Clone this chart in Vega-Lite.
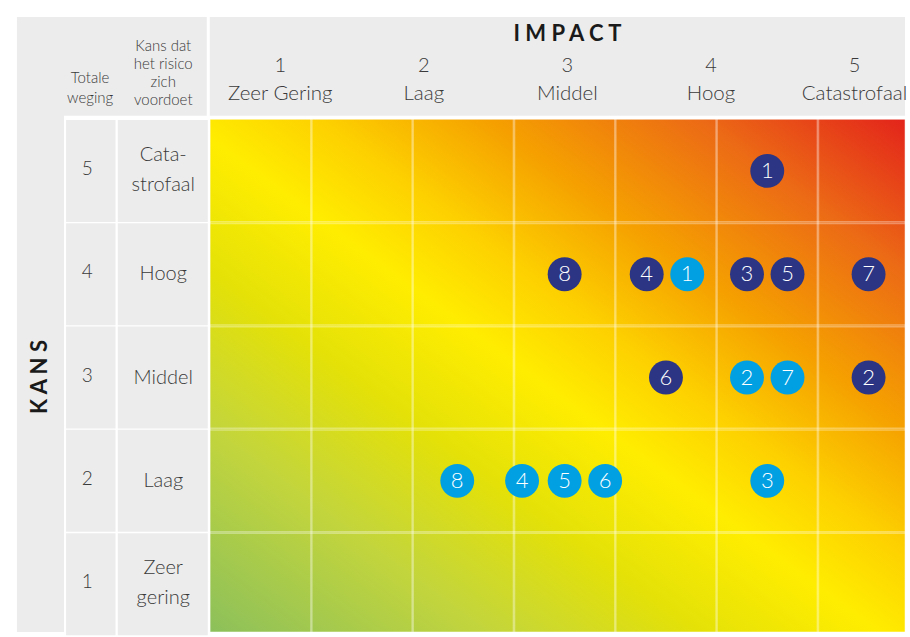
{
  "$schema": "https://vega.github.io/schema/vega-lite/v6.json",
  "width": 900,
  "height": 627,
  "autosize": "none",
  "padding": 5,
  "background": "white",
  "config": {"view": {"stroke": null}, "font": "Lato"},
  "datasets": {
    "risico": [
      {"impact": 6.0, "kans": 5, "nr": "1", "soort": "donker"},
      {"impact": 4.0, "kans": 4, "nr": "8", "soort": "donker"},
      {"impact": 4.81, "kans": 4, "nr": "4", "soort": "donker"},
      {"impact": 5.21, "kans": 4, "nr": "1", "soort": "licht"},
      {"impact": 5.8, "kans": 4, "nr": "3", "soort": "donker"},
      {"impact": 6.2, "kans": 4, "nr": "5", "soort": "donker"},
      {"impact": 7.0, "kans": 4, "nr": "7", "soort": "donker"},
      {"impact": 5.0, "kans": 3, "nr": "6", "soort": "donker"},
      {"impact": 5.8, "kans": 3, "nr": "2", "soort": "licht"},
      {"impact": 6.2, "kans": 3, "nr": "7", "soort": "licht"},
      {"impact": 7.0, "kans": 3, "nr": "2", "soort": "donker"},
      {"impact": 2.94, "kans": 2, "nr": "8", "soort": "licht"},
      {"impact": 3.58, "kans": 2, "nr": "4", "soort": "licht"},
      {"impact": 4.0, "kans": 2, "nr": "5", "soort": "licht"},
      {"impact": 4.4, "kans": 2, "nr": "6", "soort": "licht"},
      {"impact": 6.0, "kans": 2, "nr": "3", "soort": "licht"}
    ],
    "impact": [
      {"impact": 1, "label": "Zeer Gering"},
      {"impact": 2, "label": "Laag"},
      {"impact": 3, "label": "Middel"},
      {"impact": 4, "label": "Hoog"},
      {"impact": 5, "label": "Catastrofaal"}
    ],
    "kans": [
      {"kans": 5, "label": "Cata-\nstrofaal", "regels": 2},
      {"kans": 4, "label": "Hoog", "regels": 1},
      {"kans": 3, "label": "Middel", "regels": 1},
      {"kans": 2, "label": "Laag", "regels": 1},
      {"kans": 1, "label": "Zeer\ngering", "regels": 2}
    ],
    "kolommen": [
      {"kolom": 1}, {"kolom": 2}, {"kolom": 3}, {"kolom": 4}, {"kolom": 5}, {"kolom": 6}, {"kolom": 7}
    ]
  },
  "resolve": {"scale": {"x": "independent"}},
  "layer": [
    {
      "layer": [
        {
          "data": {"values": [{}]},
          "mark": {"type": "rect", "fill": "#ececec"},
          "encoding": {
            "x": {"datum": -1.406, "type": "quantitative", "scale": {"domain": [-1.4746, 7.3102], "nice": false, "zero": false}, "axis": null},
            "x2": {"datum": 7.36},
            "y": {"datum": 0.538, "type": "quantitative", "scale": {"domain": [0.5854, 6.5574], "nice": false, "zero": false}, "axis": null},
            "y2": {"datum": 6.49}
          }
        },
        {
          "data": {"values": [{}]},
          "mark": {"type": "rect", "fill": "#ffffff"},
          "encoding": {
            "x": {"datum": -0.942, "type": "quantitative", "scale": {"domain": [-1.4746, 7.3102], "nice": false, "zero": false}, "axis": null},
            "x2": {"datum": 7.36},
            "y": {"datum": 0.538, "type": "quantitative", "scale": {"domain": [0.5854, 6.5574], "nice": false, "zero": false}, "axis": null},
            "y2": {"datum": 5.535}
          }
        },
        {
          "data": {"values": [{}]},
          "mark": {"type": "rule", "stroke": "#ffffff", "strokeWidth": 3},
          "encoding": {
            "x": {"datum": 0.4824, "type": "quantitative", "scale": {"domain": [-1.4746, 7.3102], "nice": false, "zero": false}, "axis": null},
            "y": {"datum": 5.5, "type": "quantitative", "scale": {"domain": [0.5854, 6.5574], "nice": false, "zero": false}, "axis": null},
            "y2": {"datum": 6.49}
          }
        },
        {
          "data": {"name": "kans"},
          "mark": {"type": "bar", "orient": "horizontal", "fill": "#ececec", "height": 102},
          "encoding": {
            "x": {"datum": -0.921, "type": "quantitative", "scale": {"domain": [-1.4746, 7.3102], "nice": false, "zero": false}, "axis": null},
            "x2": {"datum": -0.433},
            "y": {"field": "kans", "type": "quantitative", "scale": {"domain": [0.5854, 6.5574], "nice": false, "zero": false}, "axis": null}
          }
        },
        {
          "data": {"name": "kans"},
          "mark": {"type": "bar", "orient": "horizontal", "fill": "#ececec", "height": 102},
          "encoding": {
            "x": {"datum": -0.411, "type": "quantitative", "scale": {"domain": [-1.4746, 7.3102], "nice": false, "zero": false}, "axis": null},
            "x2": {"datum": 0.4775},
            "y": {"field": "kans", "type": "quantitative", "scale": {"domain": [0.5854, 6.5574], "nice": false, "zero": false}, "axis": null}
          }
        },
        {
          "data": {"values": [{}]},
          "mark": {
            "type": "rect",
            "fill": {
              "gradient": "linear",
              "x1": 0, "y1": 1, "x2": 1, "y2": 0,
              "stops": [
                {"offset": 0, "color": "#8cc05b"},
                {"offset": 0.2, "color": "#c3d53c"},
                {"offset": 0.35, "color": "#e4e108"},
                {"offset": 0.48, "color": "#ffed00"},
                {"offset": 0.58, "color": "#fdd000"},
                {"offset": 0.7, "color": "#f5a000"},
                {"offset": 0.85, "color": "#ec6b15"},
                {"offset": 1, "color": "#e3241b"}
              ]
            }
          },
          "encoding": {
            "x": {"datum": 0.5, "type": "quantitative", "scale": {"domain": [-1.4746, 7.3102], "nice": false, "zero": false}, "axis": null},
            "x2": {"datum": 7.36},
            "y": {"datum": 0.538, "type": "quantitative", "scale": {"domain": [0.5854, 6.5574], "nice": false, "zero": false}, "axis": null},
            "y2": {"datum": 5.5}
          }
        },
        {
          "data": {"name": "kolommen"},
          "mark": {"type": "bar", "orient": "vertical", "width": 102.45, "fill": "#ffffff", "fillOpacity": 0, "stroke": "#ffffff", "strokeOpacity": 0.33, "strokeWidth": 1.5},
          "encoding": {
            "x": {"field": "kolom", "type": "quantitative", "scale": {"domain": [-1.4746, 7.3102], "nice": false, "zero": false}, "axis": null},
            "y": {"datum": 0.538, "type": "quantitative", "scale": {"domain": [0.5854, 6.5574], "nice": false, "zero": false}, "axis": null},
            "y2": {"datum": 5.5}
          }
        },
        {
          "data": {"name": "kans"},
          "mark": {"type": "bar", "orient": "horizontal", "height": 104.99, "fill": "#ffffff", "fillOpacity": 0, "stroke": "#ffffff", "strokeOpacity": 0.33, "strokeWidth": 1.5},
          "encoding": {
            "x": {"datum": 0.5, "type": "quantitative", "scale": {"domain": [-1.4746, 7.3102], "nice": false, "zero": false}, "axis": null},
            "x2": {"datum": 7.36},
            "y": {"field": "kans", "type": "quantitative", "scale": {"domain": [0.5854, 6.5574], "nice": false, "zero": false}, "axis": null}
          }
        },
        {
          "data": {"name": "kans"},
          "mark": {"type": "text", "fontSize": 19, "fontWeight": 300, "color": "#3a3a3a", "baseline": "middle", "align": "center", "dy": -2},
          "encoding": {
            "x": {"datum": -0.713, "type": "quantitative", "scale": {"domain": [-1.4746, 7.3102], "nice": false, "zero": false}, "axis": null},
            "y": {"field": "kans", "type": "quantitative", "scale": {"domain": [0.5854, 6.5574], "nice": false, "zero": false}, "axis": null},
            "text": {"field": "kans", "type": "nominal"}
          }
        },
        {
          "data": {"name": "kans"},
          "transform": [{"filter": "datum.regels == 1"}],
          "mark": {"type": "text", "fontSize": 20, "fontWeight": 300, "color": "#3a3a3a", "baseline": "middle", "align": "center"},
          "encoding": {
            "x": {"datum": 0.038, "type": "quantitative", "scale": {"domain": [-1.4746, 7.3102], "nice": false, "zero": false}, "axis": null},
            "y": {"field": "kans", "type": "quantitative", "scale": {"domain": [0.5854, 6.5574], "nice": false, "zero": false}, "axis": null},
            "text": {"field": "label", "type": "nominal"}
          }
        },
        {
          "data": {"name": "kans"},
          "transform": [{"filter": "datum.regels == 2"}],
          "mark": {"type": "text", "fontSize": 20, "fontWeight": 300, "color": "#3a3a3a", "baseline": "middle", "align": "center", "lineBreak": "\n", "lineHeight": 30, "dy": -16},
          "encoding": {
            "x": {"datum": 0.038, "type": "quantitative", "scale": {"domain": [-1.4746, 7.3102], "nice": false, "zero": false}, "axis": null},
            "y": {"field": "kans", "type": "quantitative", "scale": {"domain": [0.5854, 6.5574], "nice": false, "zero": false}, "axis": null},
            "text": {"field": "label", "type": "nominal"}
          }
        },
        {
          "data": {"values": [{"kop": "Totale\nweging"}]},
          "mark": {"type": "text", "fontSize": 15, "fontWeight": 300, "color": "#3a3a3a", "baseline": "middle", "align": "center", "lineBreak": "\n", "lineHeight": 20},
          "encoding": {
            "x": {"datum": -0.684, "type": "quantitative", "scale": {"domain": [-1.4746, 7.3102], "nice": false, "zero": false}, "axis": null},
            "y": {"datum": 5.9, "type": "quantitative", "scale": {"domain": [0.5854, 6.5574], "nice": false, "zero": false}, "axis": null},
            "text": {"field": "kop", "type": "nominal"}
          }
        },
        {
          "data": {"values": [{"kop": "Kans dat\nhet risico\nzich\nvoordoet"}]},
          "mark": {"type": "text", "fontSize": 15, "fontWeight": 300, "color": "#3a3a3a", "baseline": "middle", "align": "center", "lineBreak": "\n", "lineHeight": 18},
          "encoding": {
            "x": {"datum": 0.038, "type": "quantitative", "scale": {"domain": [-1.4746, 7.3102], "nice": false, "zero": false}, "axis": null},
            "y": {"datum": 6.21, "type": "quantitative", "scale": {"domain": [0.5854, 6.5574], "nice": false, "zero": false}, "axis": null},
            "text": {"field": "kop", "type": "nominal"}
          }
        },
        {
          "data": {"values": [{"kop": "K A N S"}]},
          "mark": {"type": "text", "fontSize": 22, "fontWeight": "bold", "color": "#1a1a1a", "baseline": "middle", "align": "center", "angle": 270},
          "encoding": {
            "x": {"datum": -1.182, "type": "quantitative", "scale": {"domain": [-1.4746, 7.3102], "nice": false, "zero": false}, "axis": null},
            "y": {"datum": 3.005, "type": "quantitative", "scale": {"domain": [0.5854, 6.5574], "nice": false, "zero": false}, "axis": null},
            "text": {"field": "kop", "type": "nominal"}
          }
        },
        {
          "data": {"name": "risico"},
          "mark": {"type": "circle", "size": 1150, "opacity": 1},
          "encoding": {
            "x": {"field": "impact", "type": "quantitative", "scale": {"domain": [-1.4746, 7.3102], "nice": false, "zero": false}, "axis": null},
            "y": {"field": "kans", "type": "quantitative", "scale": {"domain": [0.5854, 6.5574], "nice": false, "zero": false}, "axis": null},
            "color": {"field": "soort", "type": "nominal", "scale": {"domain": ["donker", "licht"], "range": ["#2b3583", "#00a0e3"]}, "legend": null}
          }
        },
        {
          "data": {"name": "risico"},
          "mark": {"type": "text", "fontSize": 22, "fontWeight": 300, "color": "#ffffff", "baseline": "middle", "align": "center"},
          "encoding": {
            "x": {"field": "impact", "type": "quantitative", "scale": {"domain": [-1.4746, 7.3102], "nice": false, "zero": false}, "axis": null},
            "y": {"field": "kans", "type": "quantitative", "scale": {"domain": [0.5854, 6.5574], "nice": false, "zero": false}, "axis": null},
            "text": {"field": "nr", "type": "nominal"}
          }
        }
      ]
    },
    {
      "layer": [
        {
          "data": {"name": "impact"},
          "mark": {"type": "text", "fontSize": 20, "fontWeight": 300, "color": "#3a3a3a", "baseline": "middle", "align": "center"},
          "encoding": {
            "x": {"field": "impact", "type": "quantitative", "scale": {"domain": [-0.9175, 5.3516], "nice": false, "zero": false}, "axis": null},
            "y": {"datum": 6.019, "type": "quantitative", "scale": {"domain": [0.5854, 6.5574], "nice": false, "zero": false}, "axis": null},
            "text": {"field": "impact", "type": "nominal"}
          }
        },
        {
          "data": {"name": "impact"},
          "mark": {"type": "text", "fontSize": 20.5, "fontWeight": 300, "color": "#3a3a3a", "baseline": "middle", "align": "center"},
          "encoding": {
            "x": {"field": "impact", "type": "quantitative", "scale": {"domain": [-0.9175, 5.3516], "nice": false, "zero": false}, "axis": null},
            "y": {"datum": 5.748, "type": "quantitative", "scale": {"domain": [0.5854, 6.5574], "nice": false, "zero": false}, "axis": null},
            "text": {"field": "label", "type": "nominal"}
          }
        },
        {
          "data": {"values": [{"kop": "I M P A C T"}]},
          "mark": {"type": "text", "fontSize": 22, "fontWeight": "bold", "color": "#1a1a1a", "baseline": "middle", "align": "center"},
          "encoding": {
            "x": {"datum": 3, "type": "quantitative", "scale": {"domain": [-0.9175, 5.3516], "nice": false, "zero": false}, "axis": null},
            "y": {"datum": 6.329, "type": "quantitative", "scale": {"domain": [0.5854, 6.5574], "nice": false, "zero": false}, "axis": null},
            "text": {"field": "kop", "type": "nominal"}
          }
        }
      ]
    }
  ]
}
